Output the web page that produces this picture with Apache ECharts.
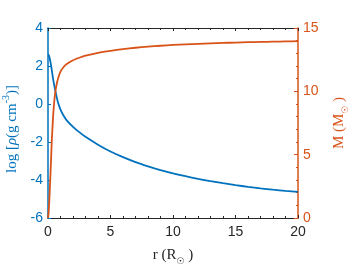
<!DOCTYPE html>
<html><head><meta charset="utf-8">
<script src="https://cdn.jsdelivr.net/npm/echarts@6/dist/echarts.min.js"></script>
<style>html,body{margin:0;padding:0;background:#fff}#c{width:362px;height:271px}</style>
</head><body><div id="c"></div>
<script>
const rValues = [0, 0.05, 0.1, 0.2, 0.3, 0.4, 0.5, 0.6, 0.7, 0.8, 1.0, 1.25, 1.5, 2, 2.5, 3, 4, 5, 6, 7, 8, 9, 10, 11, 12, 13, 14, 15, 16, 17, 18, 19, 20];
const logRho = [2.6, 2.58, 2.5, 2.2, 1.8, 1.35, 0.98, 0.65, 0.35, 0.08, -0.3, -0.62, -0.86, -1.2, -1.48, -1.73, -2.14, -2.5, -2.8, -3.06, -3.28, -3.48, -3.65, -3.8, -3.94, -4.06, -4.17, -4.27, -4.36, -4.44, -4.51, -4.57, -4.62];
const mass = [0, 0.4, 1.3, 3.5, 6.0, 7.9, 9.2, 10.05, 10.6, 11.0, 11.55, 11.92, 12.15, 12.45, 12.65, 12.82, 13.04, 13.2, 13.33, 13.44, 13.53, 13.6, 13.66, 13.71, 13.75, 13.79, 13.82, 13.85, 13.88, 13.9, 13.92, 13.94, 13.96];
const xTicks = [0, 5, 10, 15, 20];
const leftTicks = [-6, -4, -2, 0, 2, 4];
const rightTicks = [0, 5, 10, 15];

const BLUE = '#0072BD', ORANGE = '#D95319', DARK = '#262626';
const serif = 'Liberation Serif';
const sans = 'Liberation Sans';
function nameRich(color) {
  return {
    a: {fontFamily: serif, fontSize: 15, lineHeight: 22, color: color},
    i: {fontFamily: serif, fontSize: 15, lineHeight: 22, fontStyle: 'italic', color: color},
    s: {fontFamily: serif, fontSize: 10, lineHeight: 10, verticalAlign: 'top', color: color},
    sun: {fontFamily: 'DejaVu Sans', fontSize: 9, lineHeight: 9, verticalAlign: 'bottom', color: color}
  };
}
const chart = echarts.init(document.getElementById('c'), null, {renderer: 'canvas'});
const xBase = {
  type: 'value', min: xTicks[0], max: xTicks[xTicks.length - 1], interval: 5,
  axisLine: {onZero: false, lineStyle: {color: DARK, width: 1.2}},
  axisTick: {inside: true, length: 3, lineStyle: {color: DARK}},
  minorTick: {show: true, splitNumber: 5, length: 2, lineStyle: {color: DARK}},
  splitLine: {show: false}
};
chart.setOption({
  animation: false,
  grid: {left: 48, right: 64, top: 28, bottom: 53, containLabel: false, outerBoundsMode: 'none'},
  xAxis: [
    Object.assign({}, xBase, {
      position: 'bottom',
      axisLabel: {color: DARK, fontFamily: sans, fontSize: 14, margin: 7},
      name: '{a|r (R}{sun|☉}{a| )}', nameLocation: 'middle', nameGap: 26,
      nameTextStyle: {rich: nameRich(DARK)}
    }),
    Object.assign({}, xBase, {position: 'top', axisLabel: {show: false}})
  ],
  yAxis: [
    {
      type: 'value', position: 'left', min: -6, max: 4, interval: 2,
      axisLine: {show: true, onZero: false, lineStyle: {color: BLUE, width: 1.5}},
      axisTick: {show: true, inside: true, length: 3, lineStyle: {color: BLUE}},
      axisLabel: {color: BLUE, fontFamily: sans, fontSize: 14, margin: 5},
      splitLine: {show: false},
      name: '{a|log [}{i|ρ}{a|(g cm}{s|-3}{a|)]}', nameLocation: 'middle', nameRotate: 90, nameGap: 22,
      nameTextStyle: {rich: nameRich(BLUE), padding: [0, 12, 0, 0]}
    },
    {
      type: 'value', position: 'right', min: 0, max: 15, interval: 5,
      axisLine: {show: true, onZero: false, lineStyle: {color: ORANGE, width: 1.5}},
      axisTick: {show: true, inside: true, length: 4, lineStyle: {color: ORANGE}},
      minorTick: {show: true, splitNumber: 5, length: 2, lineStyle: {color: ORANGE}},
      axisLabel: {color: ORANGE, fontFamily: sans, fontSize: 14, margin: 5},
      splitLine: {show: false},
      name: '{a|M (M}{sun|☉}{a| )}', nameLocation: 'middle', nameRotate: 90, nameGap: 30,
      nameTextStyle: {rich: nameRich(ORANGE)}
    }
  ],
  series: [
    {
      type: 'line', xAxisIndex: 0, yAxisIndex: 0, showSymbol: false, smooth: 0.2,
      lineStyle: {color: BLUE, width: 1.8}, itemStyle: {color: BLUE},
      data: rValues.map((r, k) => [r, logRho[k]])
    },
    {
      type: 'line', xAxisIndex: 0, yAxisIndex: 1, showSymbol: false, smooth: 0.2,
      lineStyle: {color: ORANGE, width: 1.8}, itemStyle: {color: ORANGE},
      data: rValues.map((r, k) => [r, mass[k]])
    }
  ]
});
</script></body></html>
